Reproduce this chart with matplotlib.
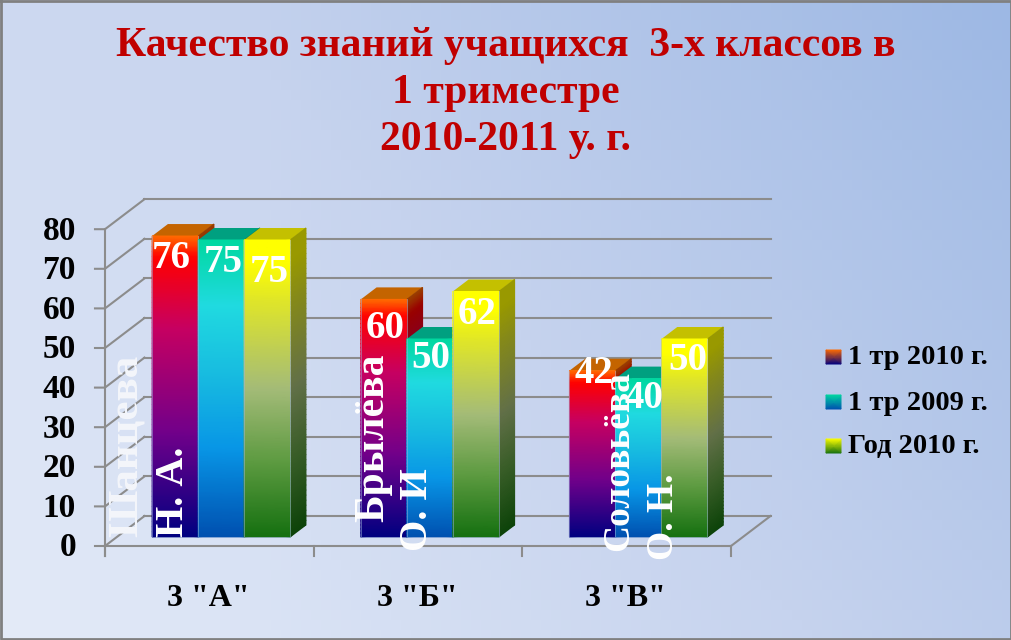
import numpy as np
import matplotlib
matplotlib.use('Agg')
import matplotlib.pyplot as plt
from matplotlib.colors import LinearSegmentedColormap
from matplotlib.transforms import Affine2D

plt.rcParams['font.family'] = ['Liberation Serif', 'DejaVu Serif']
plt.rcParams['font.weight'] = 'bold'

TITLE = 'Качество знаний учащихся  3-х классов в\n1 триместре\n2010-2011 у. г.'
CLASSES = ['3 "А"', '3 "Б"', '3 "В"']
SERIES = ['1 тр 2010 г.', '1 тр 2009 г.', 'Год 2010 г.']
Q_2010 = [76, 60, 42]
Q_2009 = [75, 50, 40]
YEAR_2010 = [75, 62, 50]
Y_TICKS = [0, 10, 20, 30, 40, 50, 60, 70, 80]
TEACHERS = ['Шанцева', 'Н. А.', 'Брылёва', 'О. И', 'Соловьёва', 'О. Н.']

# oblique projection of the fake 3d chart, in pixels
X0, Y0 = 105, 546
CAT_W = 208.67
UNIT_H = 3.96
DEPTH_X, DEPTH_Y = 39.5, 30
BAR_W = 0.2205
BAR_START = 0.169
D_FRONT, D_BACK = 0.3, 0.7

GRID = '#8c8c8c'

STOPS = [
    [(0, '#000080'), (0.35, '#72008a'), (0.7, '#c80060'), (0.93, '#ff0000'), (1, '#ff6a00')],
    [(0, '#0050b0'), (0.3, '#0896e6'), (0.55, '#18bce0'), (0.78, '#20dae0'), (1, '#00d8a0')],
    [(0, '#157010'), (0.25, '#5c9a40'), (0.5, '#a4bb78'), (0.8, '#e0e628'), (0.93, '#ffff00'), (1, '#ffff00')],
]
TOP_COLORS = ['#c46400', '#00a080', '#c4c000']


def darker(stops, k=0.6):
    out = []
    for pos, c in stops:
        r, g, b = matplotlib.colors.to_rgb(c)
        out.append((pos, (r * k, g * k, b * k)))
    return out


FRONT_CMAPS = [LinearSegmentedColormap.from_list(f'f{i}', s) for i, s in enumerate(STOPS)]
SIDE_CMAPS = [LinearSegmentedColormap.from_list(f's{i}', darker(s)) for i, s in enumerate(STOPS)]

fig = plt.figure(figsize=(10.12, 6.4), dpi=100)
ax = fig.add_axes([0, 0, 1, 1])
ax.set_xlim(0, 1012)
ax.set_ylim(640, 0)
ax.axis('off')

# slide background, diagonal gradient
bg = LinearSegmentedColormap.from_list('bg', ['#e4ebf8', '#c6d3ee', '#9db8e4'])
yy, xx = np.mgrid[0:1:64j, 0:1:101j]
ramp = np.clip((xx * 0.62 + (1 - yy) * 0.38), 0, 1)
ax.imshow(ramp, cmap=bg, extent=(0, 1012, 640, 0), aspect='auto', zorder=0, vmin=0, vmax=1)
ax.set_xlim(0, 1012)
ax.set_ylim(640, 0)
ax.plot([1, 1011, 1011, 1, 1], [1, 1, 639, 639, 1], color='#808080', lw=2, zorder=1)


def chart(depth=0.0):
    return (Affine2D().scale(CAT_W, -UNIT_H).translate(X0 + DEPTH_X * depth, Y0 - DEPTH_Y * depth)
            + ax.transData)


n_cat = len(CLASSES)

# walls and grid
for v in Y_TICKS:
    ax.plot([0, n_cat], [v, v], transform=chart(1), color=GRID, lw=1.5, zorder=2)
    px, py = X0, Y0 - v * UNIT_H
    ax.plot([px - 10, px, px + DEPTH_X], [py, py, py - DEPTH_Y], color=GRID, lw=1.5, zorder=2)
    ax.text(76, py + 2, str(v), ha='right', va='center', fontsize=24, color='black', zorder=6)
ax.plot([0, 0], [-2.5, 80], transform=chart(0), color=GRID, lw=1.5, zorder=2)
ax.plot([0, n_cat], [0, 0], transform=chart(0), color=GRID, lw=1.5, zorder=2)
ax.plot([X0 + CAT_W * n_cat, X0 + CAT_W * n_cat + DEPTH_X], [Y0, Y0 - DEPTH_Y], color=GRID, lw=1.5, zorder=2)
for i in range(n_cat + 1):
    ax.plot([i, i], [-2.5, 0], transform=chart(0), color=GRID, lw=1.5, zorder=2)
for i, name in enumerate(CLASSES):
    ax.text(X0 + CAT_W * (i + 0.5) - 1, 598, name, ha='center', va='center', fontsize=23, color='black', zorder=6)

# bars
grad = np.linspace(0, 1, 60).reshape(-1, 1).repeat(2, axis=1)
z = 3.0
label_nudge = [[(-4, 22), (2, 22), (2, 33)], [(1, 29), (1, 19), (1, 23)], [(1, 3), (5, 20), (3, 21)]]
for c in range(n_cat):
    for s, vals in enumerate([Q_2010, Q_2009, YEAR_2010]):
        v = vals[c]
        x0 = c + BAR_START + s * BAR_W
        x1 = x0 + BAR_W
        d = D_BACK - D_FRONT
        dx = d * DEPTH_X / CAT_W
        dy = d * DEPTH_Y / UNIT_H
        tr = chart(D_FRONT)
        # top
        ax.fill([x0, x1, x1 + dx, x0 + dx], [v, v, v + dy, v + dy], transform=tr,
                color=TOP_COLORS[s], lw=0, zorder=z)
        # side
        hs = np.linspace(0, v, 60)
        sx = np.column_stack([np.full(60, x1), np.full(60, x1 + dx)])
        sy = np.column_stack([hs, hs + dy])
        ax.pcolormesh(sx, sy, grad, cmap=SIDE_CMAPS[s], shading='gouraud', transform=tr,
                      zorder=z + 0.1, vmin=0, vmax=1)
        # front
        fx = np.column_stack([np.full(60, x0), np.full(60, x1)])
        fy = np.column_stack([hs, hs])
        ax.pcolormesh(fx, fy, grad, cmap=FRONT_CMAPS[s], shading='gouraud', transform=tr,
                      zorder=z + 0.2, vmin=0, vmax=1)
        ax.plot([x0, x0, x1, x1], [v, 0, 0, v], transform=tr, color='#9fb4dc', lw=0.6, alpha=0.6, zorder=z + 0.3)
        z += 1
        # value label sits on the front face
        px = X0 + DEPTH_X * D_FRONT + CAT_W * (x0 + x1) / 2 + label_nudge[c][s][0]
        py = Y0 - DEPTH_Y * D_FRONT - v * UNIT_H + label_nudge[c][s][1]
        ax.text(px, py, str(v), ha='center', va='center', fontsize=28, color='white', zorder=60)

# teacher names, rotated over the bars
ax.text(127, 537, TEACHERS[0], rotation=90, ha='center', va='bottom', fontsize=31, color='#f4f6fb', zorder=61)
ax.text(174, 537, TEACHERS[1], rotation=90, ha='center', va='bottom', fontsize=29, color='white', zorder=61)
ax.text(373, 522, TEACHERS[2], rotation=90, ha='center', va='bottom', fontsize=30, color='white', zorder=61)
ax.text(418, 551, TEACHERS[3], rotation=90, ha='center', va='bottom', fontsize=29, color='white', zorder=61)
ax.text(619, 551, TEACHERS[4], rotation=90, ha='center', va='bottom', fontsize=27, color='white', zorder=61)
ax.text(664, 560, TEACHERS[5], rotation=90, ha='center', va='bottom', fontsize=27, color='white', zorder=61)

# legend
key_y = [357, 402, 446]
for i, name in enumerate(SERIES):
    kx = np.array([[826, 841], [826, 841]])
    ky = np.array([[key_y[i] + 7, key_y[i] + 7], [key_y[i] - 7, key_y[i] - 7]])
    ax.pcolormesh(kx, ky, np.array([[0, 0], [1, 1]]), cmap=FRONT_CMAPS[i], shading='gouraud',
                  zorder=5, vmin=0, vmax=1)
    ax.text(848, key_y[i] + 1, name, ha='left', va='center', fontsize=20.5, color='black', zorder=6)

ax.text(506, 93, TITLE, ha='center', va='center', fontsize=30, color='#c00000',
        linespacing=1.32, zorder=6)

fig.savefig('out.png', dpi=100)
plt.close(fig)
